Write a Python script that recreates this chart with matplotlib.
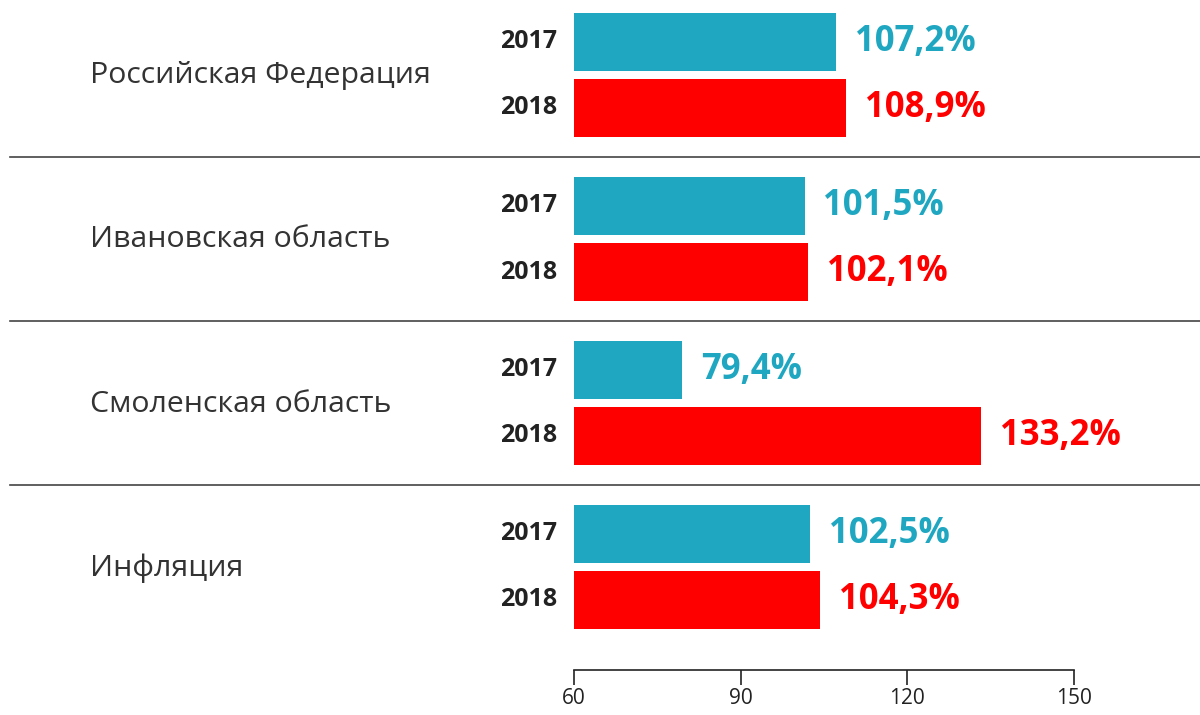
import matplotlib
matplotlib.use("Agg")
import matplotlib.pyplot as plt
from matplotlib.lines import Line2D

categories = ["Российская Федерация", "Ивановская область", "Смоленская область", "Инфляция"]
years = ["2017", "2018"]
values_2017 = [107.2, 101.5, 79.4, 102.5]
values_2018 = [108.9, 102.1, 133.2, 104.3]
labels_2017 = ["107,2%", "101,5%", "79,4%", "102,5%"]
labels_2018 = ["108,9%", "102,1%", "133,2%", "104,3%"]
xticks = [60, 90, 120, 150]

plt.rcParams['font.family'] = ['Open Sans', 'DejaVu Sans']

W, H = 1200, 715
fig = plt.figure(figsize=(12, 7.15), dpi=100)
left_px, right_px, bottom_px = 574, 1074, 670
ax = fig.add_axes([left_px / W, (H - bottom_px) / H, (right_px - left_px) / W, bottom_px / H])
ax.set_xlim(60, 150)
ax.set_ylim(bottom_px, 0)

teal = "#1fa7c1"
red = "#ff0000"
step = 164
bh = 58
for i in range(len(categories)):
    y1 = 42 + step * i
    y2 = 108 + step * i
    ax.barh(y1, values_2017[i] - 60, left=60, height=bh, color=teal)
    ax.barh(y2, values_2018[i] - 60, left=60, height=bh, color=red)
    ax.text(values_2017[i] + 3.4, y1, labels_2017[i], color=teal, fontsize=25,
            fontweight='bold', va='center', ha='left')
    ax.text(values_2018[i] + 3.4, y2, labels_2018[i], color=red, fontsize=25,
            fontweight='bold', va='center', ha='left')
    fig.text(557 / W, 1 - y1 / H, years[0], fontsize=18, fontweight='bold',
             color='#222222', ha='right', va='center')
    fig.text(557 / W, 1 - y2 / H, years[1], fontsize=18, fontweight='bold',
             color='#222222', ha='right', va='center')
    fig.text(90 / W, 1 - (76 + step * i) / H, categories[i], fontsize=21.8,
             color='#333333', ha='left', va='center')
    if i < len(categories) - 1:
        ys = 157 + step * i
        fig.add_artist(Line2D([10 / W, 1.0], [1 - ys / H, 1 - ys / H],
                              color='#444444', linewidth=1.2))

for s in ['top', 'right', 'left']:
    ax.spines[s].set_visible(False)
ax.spines['bottom'].set_color('#222222')
ax.spines['bottom'].set_linewidth(1.2)
ax.set_yticks([])
ax.set_xticks(xticks)
ax.set_xticklabels([str(t) for t in xticks])
ax.tick_params(axis='x', direction='out', length=11, width=1.2, color='#222222',
               labelsize=15, labelcolor='#222222', pad=2)
ax.patch.set_alpha(0)

fig.savefig("out.png", dpi=100)
